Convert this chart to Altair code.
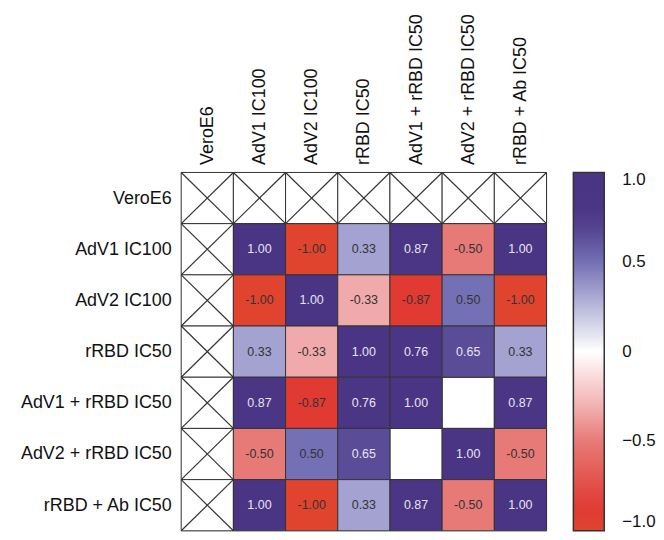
import altair as alt
import pandas as pd
import numpy as np

labels = ["VeroE6", "AdV1 IC100", "AdV2 IC100", "rRBD IC50",
          "AdV1 + rRBD IC50", "AdV2 + rRBD IC50", "rRBD + Ab IC50"]

# correlation values for rows/cols 1..6 (VeroE6 row/col is crossed out); None = blank
row_adv1 = [1.00, -1.00, 0.33, 0.87, -0.50, 1.00]
row_adv2 = [-1.00, 1.00, -0.33, -0.87, 0.50, -1.00]
row_rrbd = [0.33, -0.33, 1.00, 0.76, 0.65, 0.33]
row_adv1_rrbd = [0.87, -0.87, 0.76, 1.00, None, 0.87]
row_adv2_rrbd = [-0.50, 0.50, 0.65, None, 1.00, -0.50]
row_rrbd_ab = [1.00, -1.00, 0.33, 0.87, -0.50, 1.00]
matrix = [row_adv1, row_adv2, row_rrbd, row_adv1_rrbd, row_adv2_rrbd, row_rrbd_ab]

n = len(labels)
cells = []
crosses = []
for r in range(n):
    for c in range(n):
        rec = {"c0": c, "c1": c + 1, "r0": r, "r1": r + 1, "cm": c + 0.5, "rm": r + 0.5}
        if r == 0 or c == 0:
            rec["v"] = None
            rec["txt"] = ""
            crosses.append({"xa": c, "ya": r, "xb": c + 1, "yb": r + 1})
            crosses.append({"xa": c + 1, "ya": r, "xb": c, "yb": r + 1})
        else:
            v = matrix[r - 1][c - 1]
            rec["v"] = v
            rec["txt"] = "" if v is None else f"{v:.2f}"
        cells.append(rec)

df = pd.DataFrame(cells)
dfc = pd.DataFrame(crosses)

lab_js = "[" + ",".join("'" + s + "'" for s in labels) + "]"
lab_expr = lab_js + "[floor(datum.value)]"

xs = alt.Scale(domain=[0, n], nice=False, zero=False)
ys = alt.Scale(domain=[0, n], nice=False, zero=False, reverse=True)

color_scale = alt.Scale(
    domain=[-1, -0.87, -0.5, -0.33, 0, 0.33, 0.5, 0.65, 0.76, 1],
    range=["#e0442f", "#e03a33", "#e77a76", "#f1aaab", "#ffffff",
           "#a3a2d0", "#7470b5", "#5a4c96", "#4b3686", "#4a3584"],
    interpolate="rgb",
)

FONT = "Liberation Sans"

x_axis = alt.Axis(orient="top", values=[i + 0.5 for i in range(n)], labelExpr=lab_expr,
                  labelAngle=270, labelFontSize=18, labelFont=FONT,
                  labelColor="#111111", ticks=False, domain=False, grid=False,
                  labelPadding=8, title=None)
y_axis = alt.Axis(orient="left", values=[i + 0.5 for i in range(n)], labelExpr=lab_expr,
                  labelFontSize=18, labelFont=FONT, labelColor="#111111",
                  ticks=False, domain=False, grid=False, labelPadding=10, title=None)

base = alt.Chart(df)

white = base.transform_filter("datum.v == null").mark_rect(
    fill="#ffffff", stroke="#333333", strokeWidth=1
).encode(
    x=alt.X("c0:Q", scale=xs, axis=x_axis),
    x2="c1:Q",
    y=alt.Y("r0:Q", scale=ys, axis=y_axis),
    y2="r1:Q",
)

colored = base.transform_filter("datum.v != null").mark_rect(
    stroke="#333333", strokeWidth=1
).encode(
    x=alt.X("c0:Q", scale=xs),
    x2="c1:Q",
    y=alt.Y("r0:Q", scale=ys),
    y2="r1:Q",
    color=alt.Color("v:Q", scale=color_scale, title=None,
                    legend=alt.Legend(orient="right", gradientLength=360, gradientThickness=31,
                                      offset=27, gradientStrokeColor="#333333",
                                      gradientStrokeWidth=1.5, labelFontSize=17,
                                      labelFont=FONT, labelColor="#111111",
                                      labelOffset=18, values=[-1, -0.5, 0, 0.5, 1],
                                      labelExpr="datum.value == 0 ? '0' : format(datum.value, '.1f')")),
)

text = base.transform_filter("datum.v != null").mark_text(
    fontSize=12.5, font=FONT
).encode(
    x=alt.X("cm:Q", scale=xs),
    y=alt.Y("rm:Q", scale=ys),
    text="txt:N",
    color=alt.condition("datum.v > 0.6", alt.value("#e6e4f0"), alt.value("#333333")),
)

cross = alt.Chart(dfc).mark_rule(color="#333333", strokeWidth=1.2).encode(
    x=alt.X("xa:Q", scale=xs),
    y=alt.Y("ya:Q", scale=ys),
    x2="xb:Q",
    y2="yb:Q",
)

chart = alt.layer(white, colored, text, cross).properties(
    width=367, height=360, padding={"left": 12, "top": 4, "right": 0, "bottom": 0}
).configure_view(stroke="#333333", strokeWidth=2).configure(background="#ffffff")

chart.save("out.html", embed_options={"renderer": "svg", "actions": False})
